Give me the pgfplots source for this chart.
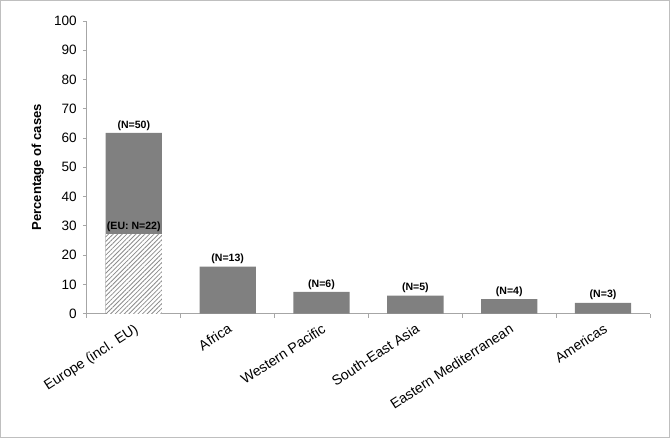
\documentclass[border=0pt]{standalone}
\usepackage{pgfplots}
\pgfplotsset{compat=1.18}
\usepackage{fontspec}
\setmainfont{Liberation Sans}
\usetikzlibrary{patterns.meta}
\definecolor{bargray}{HTML}{808080}
\definecolor{axgray}{HTML}{A6A6A6}
\definecolor{framegray}{HTML}{BFBFBF}
\definecolor{hatchgray}{HTML}{8C8C8C}
\begin{document}
\begin{tikzpicture}
\begin{axis}[
  scale only axis, width=560pt, height=291pt,
  xmin=-0.5, xmax=5.5, ymin=0, ymax=100,
  ytick={0,10,...,100},
  xtick={0,...,5},
  xticklabels={Europe (incl. EU), Africa, Western Pacific, South-East Asia, Eastern Mediterranean, Americas},
  axis x line*=bottom, axis y line*=left,
  axis line style={draw=axgray, line width=0.8pt},
  /pgf/number format/assume math mode=true,
  tick align=outside,
  major tick length=4pt,
  y tick style={draw=axgray, line width=0.8pt},
  x tick style={draw=none},
  extra x ticks={-0.5,0.5,1.5,2.5,3.5,4.5,5.5},
  extra x tick labels={},
  extra x tick style={x tick style={draw=axgray, line width=0.8pt}, major tick length=4pt},
  y tick label style={font=\fontsize{13.5}{15}\selectfont, text=black, xshift=-2.5pt},
  x tick label style={font=\fontsize{14}{15}\selectfont, text=black, rotate=33, anchor=north east, inner sep=1pt, yshift=-3pt, xshift=-2pt},
  ylabel={Percentage of cases},
  ylabel style={font=\bfseries\fontsize{13}{15}\selectfont, at={(axis description cs:-0.087,0.5)}, anchor=center},
  ybar, bar width=0.6,
  clip=false,
]
\addplot[bar shift=0pt, fill=bargray, draw=none,
  nodes near coords, point meta=explicit symbolic,
  nodes near coords style={font=\bfseries\fontsize{10.5}{11}\selectfont, text=black, anchor=south, inner sep=2.5pt}]
  coordinates {(0,61.73) [(N=50)] (1,16.05) [(N=13)] (2,7.41) [(N=6)] (3,6.17) [(N=5)] (4,4.94) [(N=4)] (5,3.70) [(N=3)]};
\addplot[bar shift=0pt, fill=white, draw=none,
  postaction={pattern={Lines[angle=45,distance=3.2pt,line width=0.8pt]}, pattern color=hatchgray}]
  coordinates {(0,27.16)};
\node[anchor=south, inner sep=2.5pt, font=\bfseries\fontsize{10.5}{11}\selectfont] at (axis cs:0,27.16) {(EU: N=22)};
\end{axis}
\draw[framegray, line width=0.8pt] (-86pt,-123.5pt) rectangle (579.5pt,311.5pt);
\end{tikzpicture}
\end{document}
